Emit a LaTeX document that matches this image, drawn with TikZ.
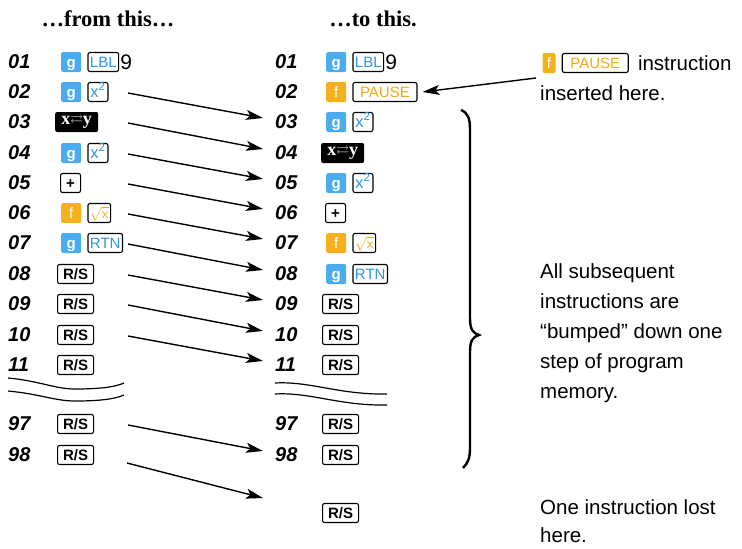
\documentclass[tikz,border=0pt]{standalone}
\usepackage{amssymb}
\usepackage{fontspec}
\setmainfont{Liberation Sans}
\newfontfamily\headfont{Liberation Serif}
\usetikzlibrary{arrows.meta,positioning}
\definecolor{keyblue}{RGB}{74,172,238}
\definecolor{keygold}{RGB}{246,176,28}
\definecolor{labblue}{RGB}{45,150,225}
\definecolor{labgold}{RGB}{238,170,20}

\begin{document}
\begin{tikzpicture}[x=1pt, y=-1pt,
  rownum/.style={anchor=west, inner sep=0pt, font=\fontsize{20}{20}\selectfont\bfseries\itshape},
  keybox/.style={draw, line width=1.1pt, rounded corners=2pt, minimum height=19pt, minimum width=20pt, inner sep=2pt, text height=10.5pt, text depth=0pt, font=\fontsize{15}{15}\selectfont},
  sqkey/.style={keybox, font=\fontsize{16.5}{16.5}\selectfont},
  rskey/.style={keybox, minimum width=36pt, font=\fontsize{15}{15}\selectfont\bfseries},
  gkey/.style={fill=keyblue, text=white, rounded corners=2pt, minimum size=20pt, inner sep=0pt, text height=10pt, text depth=0pt, font=\fontsize{15}{15}\selectfont\bfseries},
  fkey/.style={gkey, fill=keygold, font=\fontsize{15}{15}\selectfont},
  swapkey/.style={fill=black, text=white, rounded corners=2pt, minimum height=20pt, minimum width=43pt, inner sep=0pt, font=\fontsize{18}{18}\selectfont\headfont\bfseries},
  note/.style={anchor=west, align=left, inner sep=0pt, font=\fontsize{20.5}{30}\selectfont},
  head/.style={font=\fontsize{22.5}{22.5}\selectfont\headfont\bfseries},
  shiftarrow/.style={-{Stealth[length=17pt,width=10pt,inset=4pt]}, line width=1.4pt}
]
\useasboundingbox (0,0) rectangle (742,549);

% headings
\node[head] (headfrom) at (108,19) {\ldots from this\ldots};
\node[head] (headto) at (373,19) {\ldots to this.};

% step numbers, both columns
\foreach \i/\yy in {01/62,02/92,03/122,04/153,05/183,06/213,07/243,08/274,09/304,10/335,11/365,97/424,98/455}{
  \node[rownum] (l\i) at (8,\yy) {\i};
  \node[rownum] (r\i) at (275,\yy) {\i};
}

% left column keys
\node[gkey, anchor=west] (l01a) at ([xshift=53pt]l01.west) {g};
\node[keybox, text=labblue, right=6pt of l01a] (l01b) {LBL};
\node[right=0pt of l01b, inner sep=1pt, font=\fontsize{21}{21}\selectfont] (l01c) {9};
\node[gkey, anchor=west] (l02a) at ([xshift=53pt]l02.west) {g};
\node[sqkey, text=labblue, right=6pt of l02a] (l02b) {x\textsuperscript{2}};
\node[swapkey, anchor=west] (l03a) at ([xshift=47pt]l03.west) {x\raisebox{1pt}{$\scriptstyle\rightleftarrows$}y};
\node[gkey, anchor=west] (l04a) at ([xshift=53pt]l04.west) {g};
\node[sqkey, text=labblue, right=6pt of l04a] (l04b) {x\textsuperscript{2}};
\node[keybox, anchor=west, font=\fontsize{15}{15}\selectfont\bfseries] (l05a) at ([xshift=52pt]l05.west) {+};
\node[fkey, anchor=west] (l06a) at ([xshift=53pt]l06.west) {f};
\node[keybox, text=labgold, right=6pt of l06a] (l06b) {$\sqrt{\mathsf{x}}$};
\node[gkey, anchor=west] (l07a) at ([xshift=53pt]l07.west) {g};
\node[keybox, text=labblue, right=6pt of l07a] (l07b) {RTN};
\foreach \i in {08,09,10,11,97,98}
  \node[rskey, anchor=west] (l\i a) at ([xshift=49pt]l\i.west) {R/S};

% right column keys
\node[gkey, anchor=west] (r01a) at ([xshift=51pt]r01.west) {g};
\node[keybox, text=labblue, right=6pt of r01a] (r01b) {LBL};
\node[right=0pt of r01b, inner sep=1pt, font=\fontsize{21}{21}\selectfont] (r01c) {9};
\node[fkey, anchor=west] (r02a) at ([xshift=51pt]r02.west) {f};
\node[keybox, text=labgold, minimum width=64pt, right=6pt of r02a] (r02b) {PAUSE};
\node[gkey, anchor=west] (r03a) at ([xshift=51pt]r03.west) {g};
\node[sqkey, text=labblue, right=6pt of r03a] (r03b) {x\textsuperscript{2}};
\node[swapkey, anchor=west] (r04a) at ([xshift=46pt]r04.west) {x\raisebox{1pt}{$\scriptstyle\rightleftarrows$}y};
\node[gkey, anchor=west] (r05a) at ([xshift=51pt]r05.west) {g};
\node[sqkey, text=labblue, right=6pt of r05a] (r05b) {x\textsuperscript{2}};
\node[keybox, anchor=west, font=\fontsize{15}{15}\selectfont\bfseries] (r06a) at ([xshift=50pt]r06.west) {+};
\node[fkey, anchor=west] (r07a) at ([xshift=51pt]r07.west) {f};
\node[keybox, text=labgold, right=6pt of r07a] (r07b) {$\sqrt{\mathsf{x}}$};
\node[gkey, anchor=west] (r08a) at ([xshift=51pt]r08.west) {g};
\node[keybox, text=labblue, right=6pt of r08a] (r08b) {RTN};
\foreach \i in {09,10,11,97,98}
  \node[rskey, anchor=west] (r\i a) at ([xshift=47pt]r\i.west) {R/S};
\node[rskey, anchor=west] (lostrs) at (322,513) {R/S};

% breaks in program memory
\draw[line width=1.2pt] (8,378) .. controls (40,381) and (55,389) .. (75,389) .. controls (100,389) and (115,387) .. (124,383);
\draw[line width=1.2pt] (8,391) .. controls (40,394) and (55,401) .. (75,401) .. controls (100,401) and (115,399) .. (124,395);
\draw[line width=1.2pt] (275,383) .. controls (310,381) and (340,395) .. (387,394);
\draw[line width=1.2pt] (275,394) .. controls (310,392) and (340,406) .. (387,405);

% each step shifted down one
\foreach \a/\b in {02/03,03/04,04/05,05/06,06/07,07/08,08/09,09/10,10/11,97/98}
  \draw[shiftarrow] ([xshift=120pt,yshift=-1pt]l\a.west) -- ([xshift=-12pt,yshift=4pt]r\b.west);
\coordinate (lostend) at (263,498);
\draw[shiftarrow] ([xshift=119pt,yshift=-8pt]l98.west) -- (lostend);

% brace
\draw[line width=2.4pt] (461,110) .. controls (468,113) and (470,118) .. (470,130) -- (470,318)
  .. controls (470,330) and (473,333) .. (479,335) .. controls (473,337) and (470,340) .. (470,352)
  -- (470,448) .. controls (470,458) and (468,463) .. (463,468);

% notes
\node[fkey, minimum size=0pt, minimum width=13pt, minimum height=20pt] (notef) at (549,63) {f};
\node[keybox, text=labgold, minimum width=66pt, right=6pt of notef] (notepause) {PAUSE};
\node[note, right=9pt of notepause] (notea) {instruction};
\node[note] (noteb) at (540,93) {inserted here.};
\coordinate (pausefrom) at (536,78);
\draw[shiftarrow] (pausefrom) -- ([xshift=5pt]r02b.east);
\node[note] (notec) at (540,333) {All subsequent\\instructions are\\``bumped'' down one\\step of program\\memory.};
\node[note, font=\fontsize{20.5}{28}\selectfont] (noted) at (540,521) {One instruction lost\\here.};

\end{tikzpicture}
\end{document}
